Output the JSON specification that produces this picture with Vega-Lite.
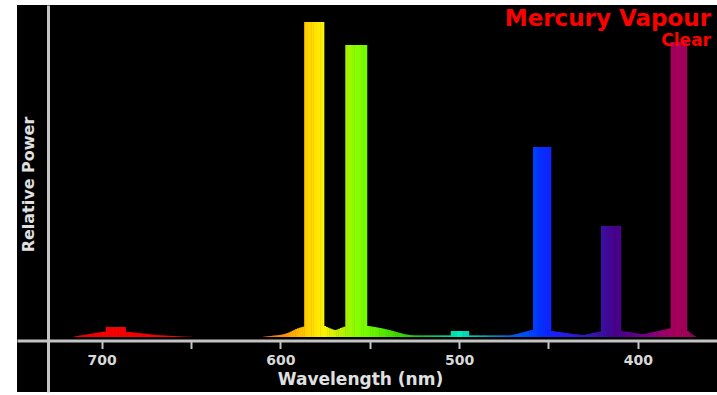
{
  "$schema": "https://vega.github.io/schema/vega-lite/v6.json",
  "width": 700,
  "height": 387,
  "autosize": {"type": "none"},
  "padding": {"left": 17, "top": 5, "right": 0, "bottom": 3},
  "background": "white",
  "config": {"view": {"fill": "black", "stroke": null}},
  "title": {
    "text": "Mercury Vapour",
    "subtitle": "Clear",
    "anchor": "end",
    "frame": "group",
    "orient": "top",
    "offset": -44,
    "dx": -6,
    "color": "#ff0000",
    "subtitleColor": "#ff0000",
    "font": "DejaVu Sans",
    "subtitleFont": "DejaVu Sans",
    "fontSize": 23,
    "fontWeight": "bold",
    "subtitleFontSize": 17,
    "subtitleFontWeight": "bold",
    "subtitlePadding": 2
  },
  "data": {"values": [
    {"nm":715,"p":0.5},{"nm":714,"p":0.8},{"nm":713,"p":1.1},{"nm":712,"p":1.4},{"nm":711,"p":1.7},{"nm":710,"p":2},{"nm":709,"p":2.3},{"nm":708,"p":2.6},{"nm":707,"p":2.9},{"nm":706,"p":3.2},{"nm":705,"p":3.5},{"nm":704,"p":3.8},{"nm":703,"p":4.1},{"nm":702,"p":4.4},{"nm":701,"p":4.7},{"nm":700,"p":5},{"nm":699,"p":5.2},{"nm":698,"p":5.4},
    {"nm":697,"p":10},{"nm":696,"p":10},{"nm":695,"p":10},{"nm":694,"p":10},{"nm":693,"p":10},{"nm":692,"p":10},{"nm":691,"p":10},{"nm":690,"p":10},{"nm":689,"p":10},{"nm":688,"p":10},{"nm":687,"p":10},
    {"nm":686,"p":5.3},{"nm":685,"p":5.1},{"nm":684,"p":4.9},{"nm":683,"p":4.7},{"nm":682,"p":4.5},{"nm":681,"p":4.3},{"nm":680,"p":4.1},{"nm":679,"p":3.9},{"nm":678,"p":3.7},{"nm":677,"p":3.5},{"nm":676,"p":3.3},{"nm":675,"p":3.1},{"nm":674,"p":2.9},{"nm":673,"p":2.7},{"nm":672,"p":2.5},{"nm":671,"p":2.3},{"nm":670,"p":2.1},{"nm":669,"p":1.9},{"nm":668,"p":1.8},{"nm":667,"p":1.7},{"nm":666,"p":1.6},{"nm":665,"p":1.5},{"nm":664,"p":1.4},{"nm":663,"p":1.3},{"nm":662,"p":1.2},{"nm":661,"p":1.1},{"nm":660,"p":1},{"nm":659,"p":0.9},{"nm":658,"p":0.8},{"nm":657,"p":0.7},{"nm":656,"p":0.6},{"nm":655,"p":0.5},{"nm":654,"p":0.4},{"nm":653,"p":0.3},{"nm":652,"p":0.3},{"nm":651,"p":0.2},{"nm":650,"p":0.2},
    {"nm":609,"p":0.3},{"nm":608,"p":0.5},{"nm":607,"p":0.7},{"nm":606,"p":0.9},{"nm":605,"p":1.1},{"nm":604,"p":1.3},{"nm":603,"p":1.5},{"nm":602,"p":1.7},{"nm":601,"p":1.9},{"nm":600,"p":2.1},{"nm":599,"p":2.4},{"nm":598,"p":2.8},{"nm":597,"p":3.3},{"nm":596,"p":3.9},{"nm":595,"p":4.6},{"nm":594,"p":5.4},{"nm":593,"p":6.3},{"nm":592,"p":7.2},{"nm":591,"p":8},{"nm":590,"p":8.7},{"nm":589,"p":9.3},{"nm":588,"p":9.8},{"nm":587,"p":10.3},
    {"nm":586,"p":315},{"nm":585,"p":315},{"nm":584,"p":315},{"nm":583,"p":315},{"nm":582,"p":315},{"nm":581,"p":315},{"nm":580,"p":315},{"nm":579,"p":315},{"nm":578,"p":315},{"nm":577,"p":315},{"nm":576,"p":315},
    {"nm":575,"p":11},{"nm":574,"p":10},{"nm":573,"p":9.3},{"nm":572,"p":8.5},{"nm":571,"p":7.8},{"nm":570,"p":7.2},{"nm":569,"p":7},{"nm":568,"p":7.5},{"nm":567,"p":8.2},{"nm":566,"p":9},{"nm":565,"p":9.7},{"nm":564,"p":10.3},
    {"nm":563,"p":292},{"nm":562,"p":292},{"nm":561,"p":292},{"nm":560,"p":292},{"nm":559,"p":292},{"nm":558,"p":292},{"nm":557,"p":292},{"nm":556,"p":292},{"nm":555,"p":292},{"nm":554,"p":292},{"nm":553,"p":292},{"nm":552,"p":292},
    {"nm":551,"p":11},{"nm":550,"p":10.8},{"nm":549,"p":10.5},{"nm":548,"p":10.2},{"nm":547,"p":9.9},{"nm":546,"p":9.6},{"nm":545,"p":9.3},{"nm":544,"p":9},{"nm":543,"p":8.6},{"nm":542,"p":8.2},{"nm":541,"p":7.8},{"nm":540,"p":7.4},{"nm":539,"p":7},{"nm":538,"p":6.5},{"nm":537,"p":6},{"nm":536,"p":5.5},{"nm":535,"p":5},{"nm":534,"p":4.5},{"nm":533,"p":4},{"nm":532,"p":3.5},{"nm":531,"p":3.1},{"nm":530,"p":2.7},{"nm":529,"p":2.4},{"nm":528,"p":2.1},{"nm":527,"p":1.9},{"nm":526,"p":1.8},
    {"nm":525,"p":1.6},{"nm":524,"p":1.6},{"nm":523,"p":1.6},{"nm":522,"p":1.6},{"nm":521,"p":1.6},{"nm":520,"p":1.6},{"nm":519,"p":1.6},{"nm":518,"p":1.6},{"nm":517,"p":1.6},{"nm":516,"p":1.6},{"nm":515,"p":1.6},{"nm":514,"p":1.6},{"nm":513,"p":1.6},{"nm":512,"p":1.6},{"nm":511,"p":1.6},{"nm":510,"p":1.6},{"nm":509,"p":1.6},{"nm":508,"p":1.6},{"nm":507,"p":1.6},{"nm":506,"p":1.6},{"nm":505,"p":1.6},
    {"nm":504,"p":6},{"nm":503,"p":6},{"nm":502,"p":6},{"nm":501,"p":6},{"nm":500,"p":6},{"nm":499,"p":6},{"nm":498,"p":6},{"nm":497,"p":6},{"nm":496,"p":6},{"nm":495,"p":6},
    {"nm":494,"p":1.6},{"nm":493,"p":1.6},{"nm":492,"p":1.6},{"nm":491,"p":1.6},{"nm":490,"p":1.6},{"nm":489,"p":1.6},{"nm":488,"p":1.6},{"nm":487,"p":1.6},{"nm":486,"p":1.6},{"nm":485,"p":1.6},{"nm":484,"p":1.6},{"nm":483,"p":1.6},{"nm":482,"p":1.6},{"nm":481,"p":1.6},{"nm":480,"p":1.6},{"nm":479,"p":1.6},{"nm":478,"p":1.6},{"nm":477,"p":1.6},{"nm":476,"p":1.6},{"nm":475,"p":1.6},{"nm":474,"p":1.6},{"nm":473,"p":1.6},{"nm":472,"p":1.6},
    {"nm":471,"p":1.8},{"nm":470,"p":2.1},{"nm":469,"p":2.5},{"nm":468,"p":2.9},{"nm":467,"p":3.3},{"nm":466,"p":3.8},{"nm":465,"p":4.3},{"nm":464,"p":4.8},{"nm":463,"p":5.3},{"nm":462,"p":5.8},{"nm":461,"p":6.3},{"nm":460,"p":6.8},{"nm":459,"p":7},
    {"nm":458,"p":190},{"nm":457,"p":190},{"nm":456,"p":190},{"nm":455,"p":190},{"nm":454,"p":190},{"nm":453,"p":190},{"nm":452,"p":190},{"nm":451,"p":190},{"nm":450,"p":190},{"nm":449,"p":190},
    {"nm":448,"p":6},{"nm":447,"p":5.8},{"nm":446,"p":5.5},{"nm":445,"p":5.2},{"nm":444,"p":5},{"nm":443,"p":4.7},{"nm":442,"p":4.5},{"nm":441,"p":4.2},{"nm":440,"p":4},{"nm":439,"p":3.7},{"nm":438,"p":3.5},{"nm":437,"p":3.2},{"nm":436,"p":3},{"nm":435,"p":2.8},{"nm":434,"p":2.6},{"nm":433,"p":2.4},{"nm":432,"p":2.2},{"nm":431,"p":2.1},{"nm":430,"p":2},{"nm":429,"p":2.4},{"nm":428,"p":2.8},{"nm":427,"p":3.2},{"nm":426,"p":3.6},{"nm":425,"p":4},{"nm":424,"p":4.4},{"nm":423,"p":4.8},{"nm":422,"p":5.2},{"nm":421,"p":5.6},
    {"nm":420,"p":111},{"nm":419,"p":111},{"nm":418,"p":111},{"nm":417,"p":111},{"nm":416,"p":111},{"nm":415,"p":111},{"nm":414,"p":111},{"nm":413,"p":111},{"nm":412,"p":111},{"nm":411,"p":111},{"nm":410,"p":111},
    {"nm":409,"p":6},{"nm":408,"p":5.7},{"nm":407,"p":5.5},{"nm":406,"p":5.2},{"nm":405,"p":5},{"nm":404,"p":4.7},{"nm":403,"p":4.4},{"nm":402,"p":4.1},{"nm":401,"p":3.8},{"nm":400,"p":3.5},{"nm":399,"p":3.3},{"nm":398,"p":3.1},{"nm":397,"p":3},{"nm":396,"p":3},{"nm":395,"p":3.4},{"nm":394,"p":3.8},{"nm":393,"p":4.2},{"nm":392,"p":4.6},{"nm":391,"p":5},{"nm":390,"p":5.4},{"nm":389,"p":5.8},{"nm":388,"p":6.2},{"nm":387,"p":6.6},{"nm":386,"p":7},{"nm":385,"p":7.4},{"nm":384,"p":7.8},{"nm":383,"p":8.2},{"nm":382,"p":8.6},
    {"nm":381,"p":295},{"nm":380,"p":295},{"nm":379,"p":295},{"nm":378,"p":295},{"nm":377,"p":295},{"nm":376,"p":295},{"nm":375,"p":295},{"nm":374,"p":295},{"nm":373,"p":295},
    {"nm":372,"p":6},{"nm":371,"p":4.5},{"nm":370,"p":3},{"nm":369,"p":1.8},{"nm":368,"p":0.8}
  ]},
  "mark": {"type": "bar", "orient": "vertical", "size": 2.3},
  "encoding": {
    "x": {
      "field": "nm",
      "type": "quantitative",
      "scale": {"domain": [358.5, 744.5], "reverse": true, "nice": false, "zero": false},
      "axis": {
        "title": "Wavelength (nm)",
        "values": [700, 650, 600, 550, 500, 450, 400],
        "labelExpr": "datum.value % 100 == 0 ? datum.label : ''",
        "offset": -51.5,
        "grid": false,
        "domainColor": "#c4c4c4",
        "domainWidth": 3,
        "tickColor": "#c4c4c4",
        "tickWidth": 2,
        "tickSize": 8,
        "labelColor": "#d8d8d8",
        "labelFont": "DejaVu Sans",
        "labelFontWeight": "bold",
        "labelFontSize": 14,
        "labelPadding": 5,
        "titleColor": "#e0e0e0",
        "titleFont": "DejaVu Sans",
        "titleFontWeight": "bold",
        "titleFontSize": 17,
        "titlePadding": 4,
        "titleX": 343
      }
    },
    "y": {
      "field": "p",
      "type": "quantitative",
      "scale": {"domain": [-55, 332], "nice": false, "zero": false},
      "axis": {
        "title": "Relative Power",
        "offset": -31,
        "grid": false,
        "ticks": false,
        "labels": false,
        "domainColor": "#c4c4c4",
        "domainWidth": 3,
        "titleColor": "#e0e0e0",
        "titleFont": "DejaVu Sans",
        "titleFontWeight": "bold",
        "titleFontSize": 16,
        "titleAngle": 270,
        "titleAlign": "center",
        "titleBaseline": "alphabetic",
        "titleX": -15,
        "titleY": 179
      }
    },
    "color": {
      "field": "nm",
      "type": "quantitative",
      "legend": null,
      "scale": {
        "interpolate": "rgb",
        "domain": [360, 370, 378, 385, 395, 405, 412, 420, 432, 445, 452, 458, 470, 480, 490, 500, 510, 520, 535, 550, 557, 564, 570, 576, 581, 587, 595, 605, 620, 650, 720],
        "range": ["#700048", "#9a0058", "#a8005c", "#9a0068", "#780088", "#58008c", "#48008a", "#3a10a0", "#3818d0", "#1c20ff", "#0a28ff", "#0040ff", "#0060f0", "#008cc0", "#00c0b0", "#00ecc0", "#00d080", "#10c830", "#40d800", "#70f800", "#88ff00", "#b0f000", "#d8f000", "#fff400", "#ffe000", "#ffc400", "#ffa000", "#ff7800", "#ff3000", "#ff0000", "#f00000"]
      }
    }
  }
}
